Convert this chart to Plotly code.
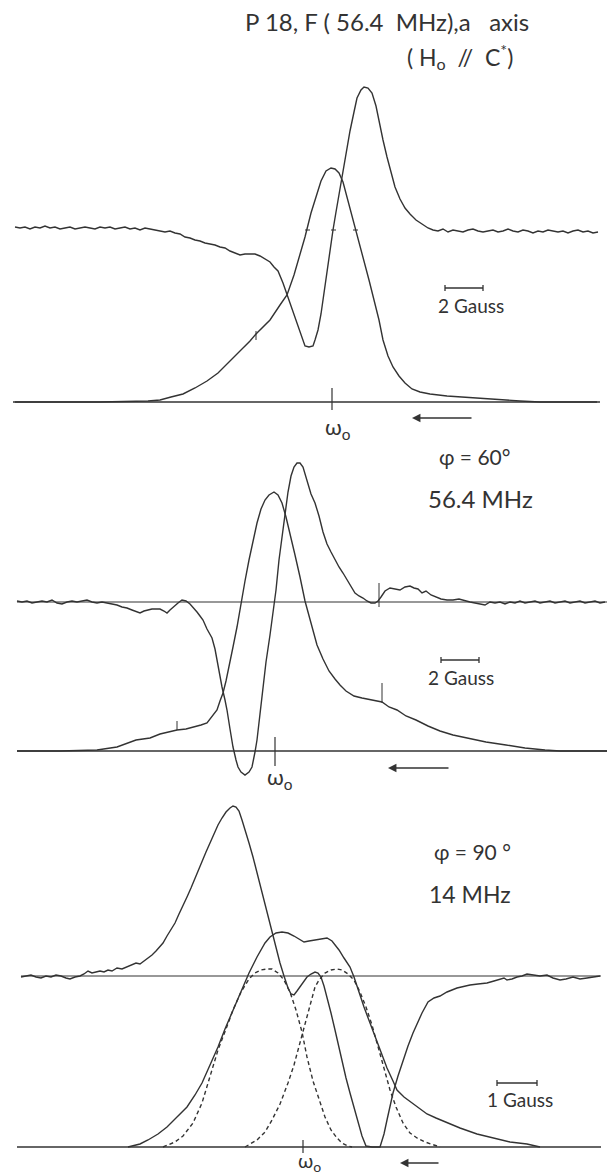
import plotly.graph_objects as go

W, H = 610, 1176
INK = "#333333"
FONT = "Lato"

# ---------------- data (field position along sweep, signal amplitude above baseline) ----------------
# Panel 1 : P18, F (56.4 MHz), a axis
p1_deriv = [(15,3),(20,2),(25,3),(30,1),(35,3),(40,2),(45,4),(50,2),(55,3),(60,1),(65,2),(70,3),(75,1),(80,2),
            (85,3),(90,2),(95,1),(100,3),(105,2),(110,3),(115,1),(120,2),(125,3),(130,1),(135,2),(140,0),(145,2),
            (150,1),(155,0),(160,-1),(165,-2),(170,-1),(175,-3),(180,-4),(185,-7),(190,-8),(195,-10),(200,-11),
            (205,-13),(210,-14),(215,-15),(220,-17),(225,-18),(230,-21),(235,-23),(240,-25),(245,-24),(250,-24),
            (255,-24),(260,-26),(265,-29),(270,-32),(274,-37),(278,-41),(283,-53),(288,-67),(292,-80),(295,-87),
            (299,-100),(302,-107),(305,-116),(309,-117),(313,-116),(315,-110),(318,-100),(321,-84),(324,-62),
            (327,-44),(330,-22),(333,0),(336,18),(339,36),(342,55),(346,78),(350,99),(354,118),(357,132),
            (361,140),(364,143),(368,142),(372,137),(376,124),(379,108),(383,90),(387,73),(391,58),(395,43),
            (400,31),(405,22),(410,16),(416,10),(422,6),(428,2),(433,0),(438,-1),(443,1),(448,-2),(453,0),
            (458,-1),(463,-2),(468,0),(473,1),(478,-1),(483,-2),(488,-1),(493,0),(498,-2),(503,-1),(508,1),
            (513,-1),(518,-2),(523,0),(528,-1),(533,-3),(538,-1),(543,-2),(548,0),(553,-1),(558,-2),(563,-1),
            (568,-3),(573,-1),(578,0),(583,-2),(588,-1),(593,-3),(598,-2)]
p1_abs = [(15,0),(60,0),(100,0),(148,1),(160,2),(171,5),(183,8),(195,14),(207,21),(218,29),(230,41),(241,51),
          (250,61),(256,68),(262,74),(270,82),(280,97),(287,107),(294,127),(300,147),(305,165),(311,189),
          (316,206),(321,221),(326,231),(331,234),(335,233),(339,229),(343,220),(346,209),(350,194),(354,179),
          (359,160),(364,142),(369,122),(374,102),(379,82),(383,62),(388,46),(393,35),(399,26),(405,19),
          (412,13),(420,10),(430,8),(447,6),(465,5),(479,4),(495,3),(506,2),(520,1),(540,0),(597,0)]

# Panel 2 : phi = 60 deg, 56.4 MHz
p2_deriv = [(17,1),(22,0),(27,1),(32,-1),(37,0),(42,1),(47,0),(52,2),(57,-1),(62,-2),(67,0),(72,1),(77,0),
            (82,1),(87,2),(92,0),(97,-1),(102,0),(107,-1),(112,-2),(117,-3),(122,-5),(127,-6),(132,-8),
            (137,-10),(140,-11),(144,-9),(148,-8),(152,-7),(156,-7),(160,-7),(164,-9),(167,-11),(170,-8),
            (174,-4),(178,-1),(182,2),(186,1),(190,-2),(193,-5),(197,-10),(200,-14),(203,-18),(207,-27),
            (212,-36),(215,-47),(217,-58),(220,-75),(222,-85),(225,-98),(227,-108),(230,-127),(233,-145),
            (236,-158),(238,-165),(241,-170),(245,-173),(249,-170),(252,-165),(255,-150),(257,-138),(260,-112),
            (263,-85),(266,-60),(270,-33),(273,-12),(276,12),(279,42),(282,66),(285,90),(288,110),(291,126),
            (294,135),(297,139),(300,139),(303,135),(307,122),(311,108),(315,99),(319,86),(323,70),(327,58),
            (331,50),(335,42),(339,35),(343,29),(347,22),(351,15),(355,9),(359,6),(363,4),(367,1),(371,-1),
            (375,-1),(378,1),(381,5),(385,11),(390,14),(395,13),(400,12),(405,15),(410,16),(414,14),(418,13),
            (422,9),(426,11),(431,7),(436,5),(441,3),(447,2),(453,2),(459,3),(465,1),(470,0),(475,-1),(480,-2),
            (485,-3),(490,0),(495,-1),(500,0),(505,-2),(510,0),(515,-1),(520,1),(525,-1),(530,0),(535,1),
            (540,-1),(545,0),(550,1),(555,-1),(560,0),(565,1),(570,-1),(575,0),(580,1),(585,-1),(590,0),
            (595,1),(600,-1),(605,0)]
p2_abs = [(17,0),(60,0),(97,1),(117,4),(136,11),(150,13),(160,17),(170,19),(177,21),(186,22),(195,24),
          (201,26),(207,28),(212,35),(217,41),(220,50),(223,58),(226,70),(230,88),(233,104),(237,124),
          (241,148),(245,170),(249,191),(253,211),(257,228),(261,242),(265,251),(269,256),(274,259),
          (278,256),(282,248),(286,234),(290,218),(295,196),(300,174),(305,150),(311,128),(317,106),
          (323,92),(329,80),(335,72),(340,66),(346,60),(354,55),(362,53),(372,51),(382,49),(389,44),
          (397,41),(406,35),(416,31),(428,25),(440,20),(453,16),(467,13),(486,9),(506,6),(525,3),(545,1),
          (560,0),(607,0)]

# Panel 3 : phi = 90 deg, 14 MHz
p3_deriv = [(21,-1),(26,0),(31,1),(36,-1),(41,-2),(46,0),(51,-1),(56,1),(61,0),(66,-2),(70,-3),(75,-1),
            (80,0),(84,2),(88,5),(92,3),(96,4),(100,5),(104,4),(108,6),(112,5),(117,8),(122,7),(127,9),
            (132,11),(136,13),(140,12),(144,15),(148,18),(152,21),(156,25),(160,29),(163,33),(167,40),
            (171,46),(175,53),(179,62),(183,70),(187,79),(191,88),(195,98),(198,106),(202,115),(206,124),
            (210,133),(214,142),(218,151),(222,158),(226,164),(230,168),(233,170),(236,169),(239,165),
            (242,156),(245,145),(249,133),(253,119),(257,103),(261,88),(265,73),(269,58),(272,43),(276,28),
            (280,13),(284,0),(288,-12),(291,-18),(294,-19),(297,-15),(300,-11),(304,-5),(307,-1),(311,2),
            (315,4),(318,3),(321,-1),(324,-10),(327,-21),(331,-37),(335,-54),(339,-72),(342,-87),(346,-102),
            (350,-117),(354,-132),(358,-147),(362,-160),(366,-170),(372,-171),(380,-171),(384,-158),
            (387,-144),(390,-130),(393,-117),(398,-100),(403,-84),(408,-70),(413,-57),(418,-46),(422,-37),
            (428,-26),(434,-22),(440,-20),(447,-16),(457,-12),(465,-10),(470,-9),(478,-8),(487,-7),(494,-5),
            (500,-3),(504,-2),(507,-4),(512,-3),(517,-1),(522,0),(527,2),(533,1),(540,0),(547,1),(553,-2),
            (560,-4),(566,-3),(573,-1),(580,-3),(587,-2),(594,-1),(600,0)]
p3_abs = [(128,0),(140,3),(148,7),(158,13),(167,20),(177,30),(187,40),(195,52),(202,64),(210,82),(218,100),
          (225,118),(233,137),(241,155),(249,174),(257,190),(265,204),(270,210),(276,214),(282,215),
          (288,214),(294,211),(300,207),(304,205),(309,206),(315,207),(321,208),(327,209),(332,206),
          (339,197),(344,189),(350,180),(354,170),(358,157),(364,140),(370,124),(376,108),(381,94),
          (387,79),(393,66),(397,57),(404,50),(412,44),(420,38),(427,33),(436,29),(445,25),(460,19),
          (477,13),(493,9),(510,5),(527,3),(540,0)]
p3_comp_a = [(163,0),(175,5),(183,11),(193,24),(202,44),(210,70),(218,97),(226,118),(233,137),(241,155),
             (249,168),(255,174),(261,177),(267,178),(272,178),(278,174),(284,167),(290,155),(296,137),
             (302,115),(307,90),(313,66),(319,47),(325,30),(331,17),(337,9),(342,4),(348,1),(352,0)]
p3_comp_b = [(245,0),(257,7),(265,15),(272,27),(280,43),(288,64),(294,82),(300,104),(306,126),(311,144),
             (315,160),(319,167),(325,174),(331,177),(337,178),(342,177),(348,173),(354,167),(360,155),
             (366,140),(372,122),(377,104),(381,90),(386,72),(390,57),(396,40),(403,24),(410,14),(417,9),
             (425,5),(433,2),(440,0)]

# ---------------- layout helpers ----------------
# screen row of each trace's zero line (layout only)
zero_rows = {"y": 230, "y2": 402, "y3": 602, "y4": 751, "y5": 976, "y6": 1147}


def py(row):
    return 1 - row / H


fig = go.Figure()


def add(series, axis, dash=None, width=1.4):
    xs = [p[0] for p in series]
    ys = [p[1] for p in series]
    fig.add_trace(go.Scatter(x=xs, y=ys, yaxis=axis, mode="lines", hoverinfo="skip",
                             line=dict(color=INK, width=width, dash=dash)))


add(p1_deriv, "y")
add(p1_abs, "y2")
add(p2_deriv, "y3")
add(p2_abs, "y4")
add(p3_deriv, "y5")
add(p3_abs, "y6")
add(p3_comp_a, "y6", dash="4px,3px", width=1.4)
add(p3_comp_b, "y6", dash="4px,3px", width=1.4)

axes = {}
for name, row in zero_rows.items():
    key = "yaxis" if name == "y" else "yaxis" + name[1:]
    d = dict(range=[row - H, row], domain=[0, 1], visible=False, fixedrange=True)
    if name != "y":
        d["overlaying"] = "y"
    axes[key] = d

shapes = []


def hline(x0, x1, row, w=1.4):
    shapes.append(dict(type="line", xref="x", yref="paper", x0=x0, x1=x1, y0=py(row), y1=py(row),
                       line=dict(color=INK, width=w)))


def vline(x, r0, r1, w=1.2):
    shapes.append(dict(type="line", xref="x", yref="paper", x0=x, x1=x, y0=py(r0), y1=py(r1),
                       line=dict(color=INK, width=w)))


# base lines
hline(13, 600, 402)
hline(17, 607, 602, 1.2)
hline(17, 607, 751)
hline(21, 601, 976, 1.2)
hline(17, 601, 1147)
# omega_0 markers
vline(332, 388, 410)
vline(275, 737, 766)
vline(303, 1140, 1153)
# small reference ticks on the traces
vline(256, 331, 340, 1)
hline(305, 310, 230, 1)
hline(331, 336, 230, 1)
hline(353, 358, 230, 1)
vline(379, 583, 607, 1)
vline(177, 721, 730, 1)
vline(382, 683, 703, 1)
# scale bars
for (a, b, row) in [(445, 483, 288), (441, 479, 660), (497, 537, 1083)]:
    hline(a, b, row, 1.3)
    vline(a, row - 3, row + 3, 1.3)
    vline(b, row - 3, row + 3, 1.3)

annotations = []


def text(x, row, s, size, anchor="center"):
    annotations.append(dict(x=x, y=py(row), xref="x", yref="paper", text=s, showarrow=False,
                            xanchor=anchor, yanchor="middle",
                            font=dict(family=FONT, size=size, color=INK)))


text(243, 21, "P 18, F (&nbsp;56.4&nbsp;&nbsp;MHz),a&nbsp;&nbsp;&nbsp;axis", 24, "left")
text(405, 56, "(&nbsp;H<sub>o</sub>&nbsp; //&nbsp; C<sup>*</sup>)", 23, "left")
text(471, 305, "2 Gauss", 19)
text(338, 428, "ω<sub>o</sub>", 22)
text(474, 456, "φ = 60°", 21)
text(480, 498, "56.4 MHz", 24)
text(461, 677, "2 Gauss", 19)
text(280, 778, "ω<sub>o</sub>", 22)
text(472, 851, "φ = 90 °", 21)
text(470, 894, "14 MHz", 23)
text(520, 1099, "1 Gauss", 19)
text(309, 1161, "ω<sub>o</sub>", 20)

# sweep-direction arrows
for (hx, tx, row) in [(412, 473, 418), (388, 450, 768), (400, 440, 1163)]:
    annotations.append(dict(x=hx, y=py(row), xref="x", yref="paper", ax=tx - hx, ay=0,
                            axref="pixel", ayref="pixel", text="", showarrow=True,
                            arrowhead=2, arrowsize=1.3, arrowwidth=1.3, arrowcolor=INK))

fig.update_layout(
    width=W, height=H, autosize=False,
    margin=dict(l=0, r=0, t=0, b=0, pad=0),
    paper_bgcolor="white", plot_bgcolor="white",
    showlegend=False,
    xaxis=dict(range=[0, W], domain=[0, 1], visible=False, fixedrange=True),
    shapes=shapes, annotations=annotations,
    **axes,
)

fig.write_html("out.html", config={"displayModeBar": False, "staticPlot": True},
               post_script="document.body.style.margin='0';document.body.style.overflow='hidden';")
